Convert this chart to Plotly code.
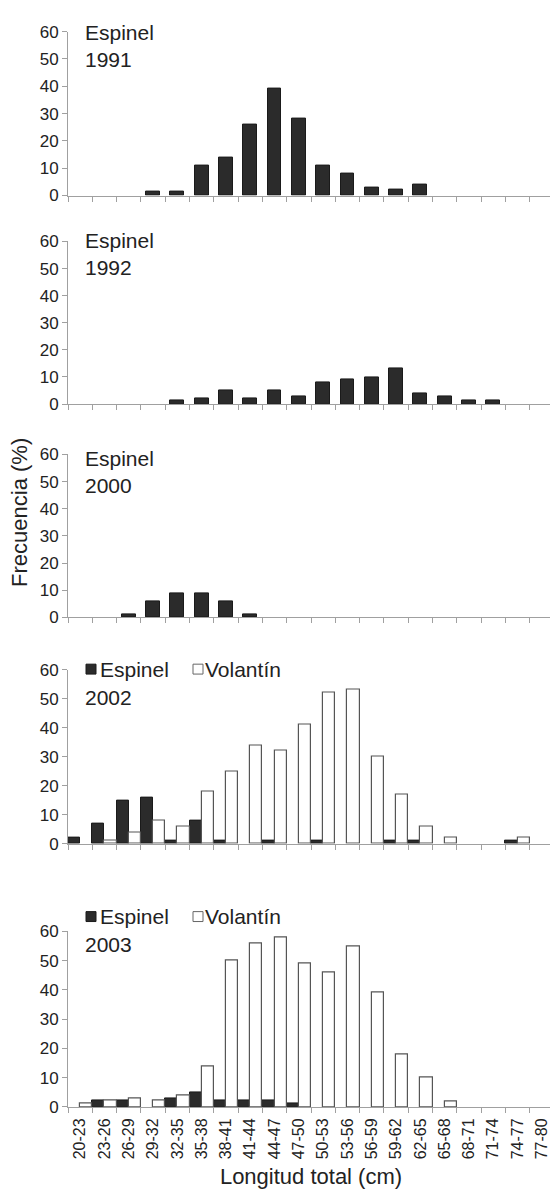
import plotly.graph_objects as go

# ---------------- data ----------------
categories = ["20-23", "23-26", "26-29", "29-32", "32-35", "35-38", "38-41",
              "41-44", "44-47", "47-50", "50-53", "53-56", "56-59", "59-62",
              "62-65", "65-68", "68-71", "71-74", "74-77", "77-80"]

espinel_1991 = [0, 0, 0, 1.5, 1.5, 11, 14, 26, 39, 28, 11, 8, 3, 2, 4, 0, 0, 0, 0, 0]
espinel_1992 = [0, 0, 0, 0, 1.5, 2, 5, 2, 5, 3, 8, 9, 10, 13, 4, 3, 1.5, 1.5, 0, 0]
espinel_2000 = [0, 0, 1.2, 6, 9, 9, 6, 1.2, 0, 0, 0, 0, 0, 0, 0, 0, 0, 0, 0, 0]
espinel_2002 = [2, 7, 15, 16, 1, 8, 1, 0, 1, 0, 1, 0, 0, 1, 1, 0, 0, 0, 1, 0]
volantin_2002 = [0, 1, 4, 8, 6, 18, 25, 34, 32, 41, 52, 53, 30, 17, 6, 2, 0, 0, 2, 0]
espinel_2003 = [0, 2.2, 2.2, 0, 2.9, 5, 2.1, 2.1, 2.1, 1.1, 0, 0, 0, 0, 0, 0, 0, 0, 0, 0]
volantin_2003 = [1.1, 2.2, 2.8, 2.1, 3.9, 14, 50, 56, 58, 49, 46, 55, 39, 18, 10, 2, 0, 0, 0, 0]

years = ["1991", "1992", "2000", "2002", "2003"]
y_ticks = [0, 10, 20, 30, 40, 50, 60]

# ---------------- style / layout ----------------
OFF = 8                      # default page body margin
W, H = 558 - OFF, 1193 - OFF
ML, MR, MT, MB = 60, 4, 0, 86
HP = H - MT - MB
FONT = "Liberation Sans, Arial, sans-serif"
TXT = "#222222"
AXC = "#a0a0a0"
DARK = "#2b2b2b"

# panel extents in screen pixels (top = 60, bottom = 0)
panels_px = [(22.7, 188.0), (234.3, 398.3), (449.0, 613.3), (666.0, 841.7), (930.0, 1107.0)]


def py(ypx):
    return (H - MB - (ypx - OFF)) / HP


def pyc(ypx):
    return min(1.0, max(0.0, py(ypx)))


def px(xpx):
    return (xpx - OFF - ML) / (W - ML - MR)


def nz(vals):
    return [v if v else None for v in vals]


fig = go.Figure()

single = [espinel_1991, espinel_1992, espinel_2000]
for i, vals in enumerate(single):
    k = "" if i == 0 else str(i + 1)
    fig.add_trace(go.Bar(x=categories, y=nz(vals), xaxis="x" + k, yaxis="y" + k,
                         width=0.57, marker=dict(color=DARK, line=dict(color="#1a1a1a", width=1)),
                         showlegend=False, name="Espinel"))

for i, (esp, vol) in enumerate([(espinel_2002, volantin_2002), (espinel_2003, volantin_2003)]):
    k = str(i + 4)
    fig.add_trace(go.Bar(x=categories, y=nz(esp), xaxis="x" + k, yaxis="y" + k, name="Espinel",
                         marker=dict(color=DARK, line=dict(color="#1a1a1a", width=1)),
                         showlegend=False, offsetgroup="e"))
    fig.add_trace(go.Bar(x=categories, y=nz(vol), xaxis="x" + k, yaxis="y" + k, name="Volantín",
                         marker=dict(color="white", line=dict(color="#555555", width=1.2)),
                         showlegend=False, offsetgroup="v"))

layout = dict(
    width=W, height=H,
    margin=dict(l=ML, r=MR, t=MT, b=MB),
    paper_bgcolor="white", plot_bgcolor="white",
    barmode="group", bargap=0, bargroupgap=0,
    font=dict(family=FONT, color=TXT, size=16),
    showlegend=False,
)

for i, (top, bot) in enumerate(panels_px):
    k = "" if i == 0 else str(i + 1)
    last = i == len(panels_px) - 1
    layout["xaxis" + k] = dict(
        type="category", categoryorder="array", categoryarray=categories,
        range=[-0.5, len(categories) - 0.5], anchor="y" + k, domain=[0, 1],
        showline=True, linecolor=AXC, linewidth=1,
        ticks="outside", tickson="boundaries", ticklen=5, tickcolor=AXC, tickwidth=1,
        showgrid=False, zeroline=False, showticklabels=last,
        tickangle=-90, tickfont=dict(size=16, color=TXT, family=FONT),
        ticklabelstandoff=4,
    )
    layout["yaxis" + k] = dict(
        range=[0, 60], tickvals=y_ticks, anchor="x" + k,
        domain=[pyc(bot), pyc(top)],
        showline=True, linecolor=AXC, linewidth=1,
        ticks="outside", ticklen=5, tickcolor=AXC, tickwidth=1,
        showgrid=False, zeroline=False,
        tickfont=dict(size=17, color=TXT, family=FONT),
    )

layout["xaxis5"]["title"] = dict(text="Longitud total (cm)", font=dict(size=22, color=TXT, family=FONT),
                                 standoff=10)

annotations = []
# panel labels for single-series panels
label_y = [37, 247, 467]
for i in range(3):
    annotations.append(dict(text="Espinel<br>" + years[i], x=px(83), y=py(label_y[i]),
                            xref="paper", yref="paper", xanchor="left", yanchor="middle",
                            align="left", showarrow=False,
                            font=dict(size=21, color=TXT, family=FONT)))

# legends + years for 2002 and 2003
shapes = []
for yr, leg_c, yr_c in [("2002", 665.5, 694), ("2003", 915, 943)]:
    annotations.append(dict(text=yr, x=px(83), y=py(yr_c), xref="paper", yref="paper",
                            xanchor="left", yanchor="middle", showarrow=False,
                            font=dict(size=21, color=TXT, family=FONT)))
    annotations.append(dict(text="Espinel", x=px(98), y=py(leg_c), xref="paper", yref="paper",
                            xanchor="left", yanchor="middle", showarrow=False,
                            font=dict(size=21, color=TXT, family=FONT)))
    annotations.append(dict(text="Volantín", x=px(203), y=py(leg_c), xref="paper", yref="paper",
                            xanchor="left", yanchor="middle", showarrow=False,
                            font=dict(size=21, color=TXT, family=FONT)))
    shapes.append(dict(type="rect", xref="paper", yref="paper",
                       x0=px(86), x1=px(96), y0=py(leg_c + 5), y1=py(leg_c - 5),
                       fillcolor=DARK, line=dict(color="#1a1a1a", width=1)))
    shapes.append(dict(type="rect", xref="paper", yref="paper",
                       x0=px(193), x1=px(203), y0=py(leg_c + 5), y1=py(leg_c - 5),
                       fillcolor="white", line=dict(color="#666666", width=1)))

annotations.append(dict(text="Frecuencia (%)", x=px(20), y=py(508), xref="paper", yref="paper",
                        xanchor="center", yanchor="middle", textangle=-90, showarrow=False,
                        font=dict(size=22, color=TXT, family=FONT)))

layout["annotations"] = annotations
layout["shapes"] = shapes
fig.update_layout(**layout)

fig.write_html("out.html")
